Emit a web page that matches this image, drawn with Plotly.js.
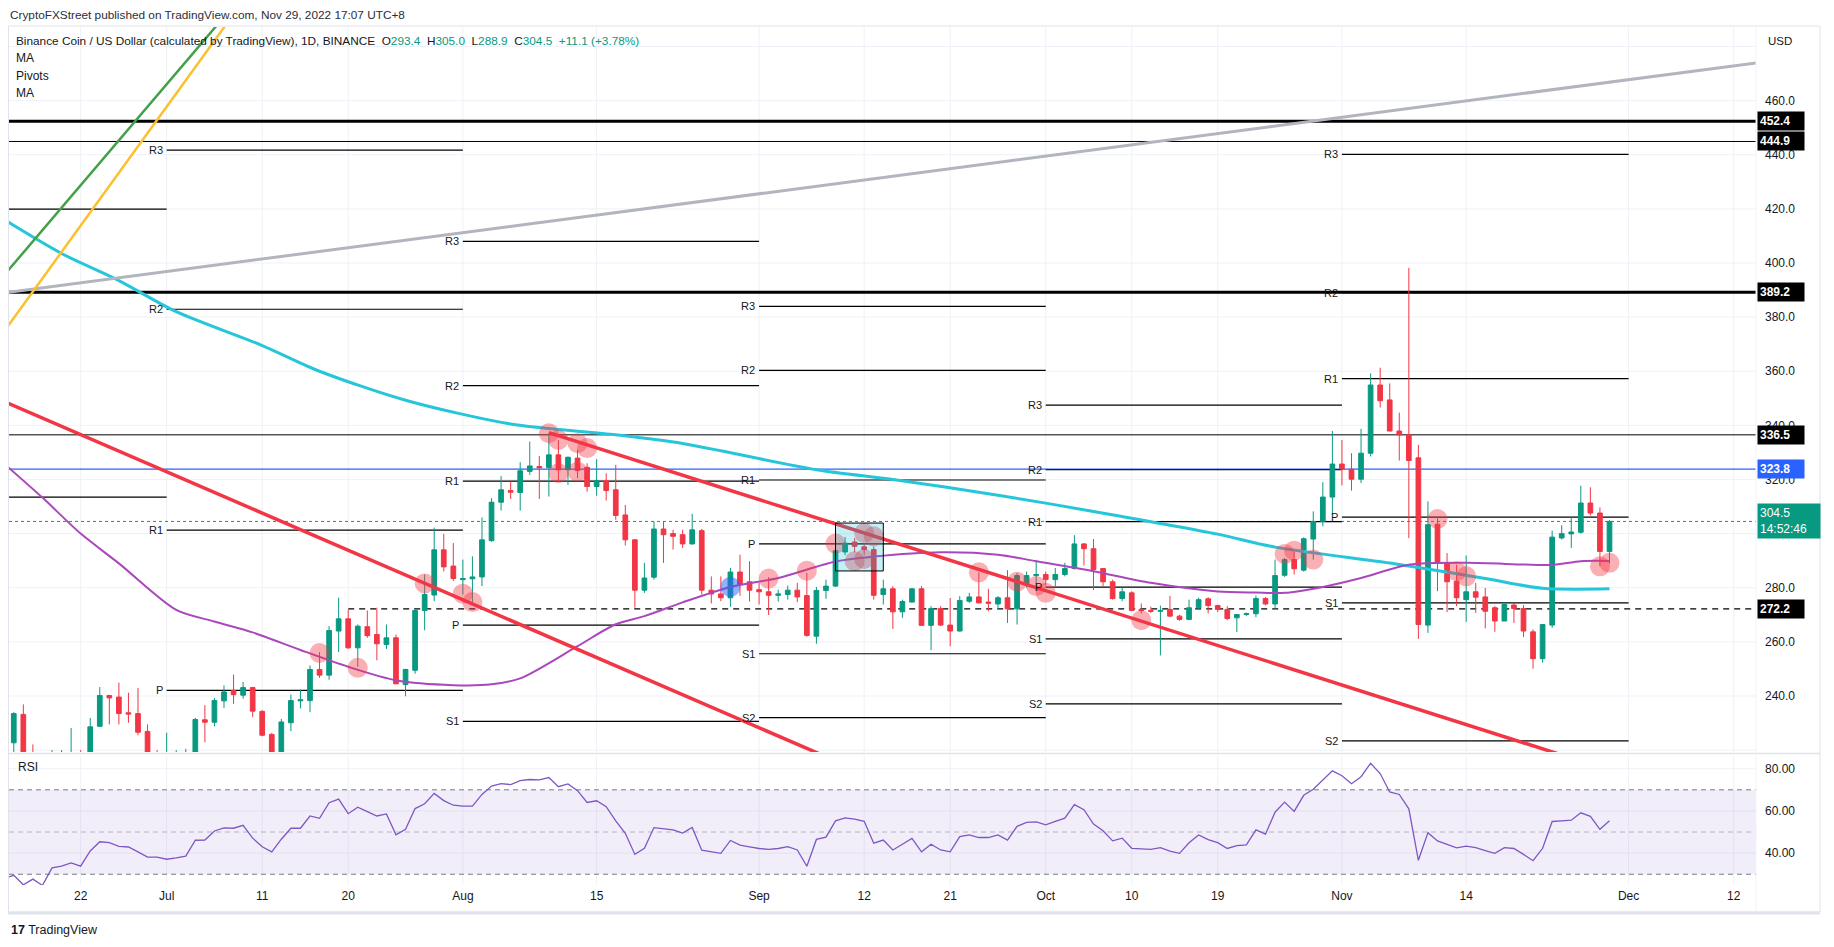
<!DOCTYPE html>
<html>
<head>
<meta charset="utf-8">
<script src="https://cdn.plot.ly/plotly-3.0.1.min.js"></script>
<style>
  html, body { margin: 0; padding: 0; background: #ffffff; }
  #chart { width: 1834px; height: 947px; }
</style>
</head>
<body>
<div id="chart"></div>
<script>
// ---- candles, 1D, from Jun 15 2022 to Nov 29 2022 ----
var firstCandle = '2022-06-15';

var openJun = [222.7, 233.2, 214, 212, 203, 218, 216, 219, 212, 228.8, 240.2, 239.6, 233.8, 233.5, 226.9, 219];
var highJun = [234.0, 236.9, 222.1, 214, 220, 220, 228.2, 220, 231.9, 243.3, 240.4, 244.9, 241.2, 243.0, 229.5, 220];
var lowJun = [215, 211, 208, 183, 199, 207, 213, 210, 211, 228.5, 229.5, 229.5, 230.1, 225.5, 216, 206];
var closeJun = [233.5, 214, 212, 203, 218, 216, 219, 212, 228.6, 240.2, 239.3, 233.5, 233.3, 226.6, 219, 214];

var openJul = [214, 217, 218, 219, 231.2, 230.3, 238.2, 242.0, 240.3, 243.1, 234.3, 225.8, 219, 230.1, 238.2, 238.3, 249.8, 247.7, 264.0, 268.5, 257.8, 265.6, 262.7, 259.0, 261.5, 244.2, 249.5, 271.6, 277.3, 294.0, 288.0];
var highJul = [226.4, 220, 220.5, 231.9, 236.6, 239.3, 243.9, 247.9, 245.2, 243.4, 234.8, 226.4, 231.5, 240.5, 242.4, 251.3, 256.2, 265.8, 276.3, 271.9, 266.4, 271.6, 272.6, 266.4, 262.7, 250.0, 272.2, 284.9, 302.2, 299.9, 296.5];
var lowJul = [212, 213, 215, 216, 222.9, 228.8, 235.6, 237.1, 239.0, 232.3, 225.1, 217, 214, 227, 235.4, 234.0, 246.7, 246.0, 256.2, 257.4, 250.8, 261.5, 253.2, 257.4, 244.3, 239.9, 248.2, 264.3, 275.0, 286.0, 282.5];
var closeJul = [217, 218, 219, 231.3, 230.3, 238.3, 241.5, 240.5, 243.1, 234.4, 225.5, 219, 230.4, 238.3, 238.6, 249.8, 247.7, 264.2, 268.5, 257.8, 265.8, 262.3, 259.3, 261.5, 244.5, 249.8, 271.6, 277.5, 294.0, 287.7, 283.4];

var openAug = [283.0, 283.3, 284.0, 297.4, 311.6, 315.9, 315.2, 323.0, 324.8, 324.4, 329.1, 323.6, 327.9, 324.5, 317.4, 319.5, 316.2, 306.9, 297.7, 279.1, 283.9, 301.7, 300.0, 299.6, 296.2, 301.1, 279.1, 277.7, 276.3, 285.8, 282.2];
var highAug = [290.4, 291.6, 306.0, 313.1, 321.3, 319.2, 326.4, 334.0, 328.7, 337.1, 334.6, 328.5, 331.0, 326.0, 327.5, 322.3, 325.4, 310.6, 298.0, 289.2, 304.5, 304.5, 301.4, 301.4, 307.3, 301.7, 284.2, 284.2, 287.3, 292.2, 289.8];
var lowAug = [277.5, 274.7, 280.6, 297.0, 308.5, 312.8, 308.5, 321.7, 312.8, 313.7, 319.2, 318.0, 320.5, 315.5, 314.0, 312.2, 305.1, 295.6, 272.6, 278.1, 283.0, 289.2, 294.1, 294.7, 295.9, 277.5, 274.2, 275.0, 273.0, 277.0, 274.9];
var closeAug = [283.4, 284.0, 297.7, 311.6, 316.2, 315.3, 323.2, 325.0, 324.3, 329.1, 323.6, 328.2, 323.3, 317.4, 319.5, 315.9, 306.7, 297.7, 279.1, 283.6, 301.7, 299.6, 299.0, 296.2, 301.4, 279.1, 277.7, 276.3, 285.8, 281.2, 279.1];

var openSep = [279.3, 278.5, 277.2, 277.5, 279.1, 277.1, 262.1, 279.0, 280.6, 293.2, 296.9, 295.1, 294.1, 277.5, 279.6, 271.1, 274.7, 279.6, 266.1, 272.3, 266.2, 264.0, 275.0, 276.6, 274.7, 274.0, 276.3, 272.2, 281.5, 284.5];
var highSep = [281.8, 283.9, 279.3, 280.8, 281.8, 285.5, 280.3, 283.0, 300.8, 298.8, 298.4, 296.5, 295.3, 283.0, 280.6, 275.6, 279.9, 280.6, 273.2, 273.2, 276.2, 276.9, 278.1, 285.7, 279.6, 276.9, 286.5, 285.5, 286.0, 290.3];
var lowSep = [273.8, 269.9, 274.9, 275.6, 274.7, 261.9, 259.3, 275.9, 280.3, 292.0, 293.0, 292.2, 275.6, 273.8, 264.8, 268.9, 274.5, 266.0, 256.9, 265.8, 258.4, 263.8, 274.4, 274.2, 271.3, 272.2, 267.0, 266.4, 280.0, 278.8];
var closeSep = [278.5, 277.2, 277.7, 279.1, 276.6, 262.4, 279.0, 280.6, 293.7, 296.5, 295.3, 294.1, 277.2, 279.6, 271.1, 274.9, 279.6, 266.1, 272.3, 266.2, 264.0, 275.3, 276.6, 274.4, 274.3, 276.3, 272.2, 284.5, 284.5, 284.9];

var openOct = [284.9, 283.0, 284.9, 287.1, 296.2, 294.4, 287.1, 282.2, 276.0, 278.1, 272.0, 271.6, 271.3, 272.0, 269.5, 268.3, 272.6, 275.9, 273.4, 272.0, 268.9, 270.1, 270.4, 276.0, 274.0, 284.6, 290.4, 286.5, 298.0, 304.5, 313.5];
var highOct = [286.0, 287.3, 289.2, 299.4, 296.5, 298.0, 287.3, 283.0, 280.0, 278.7, 274.2, 273.0, 273.4, 277.0, 270.0, 275.6, 276.3, 276.5, 273.8, 273.2, 270.3, 270.8, 277.1, 276.5, 290.4, 291.0, 293.5, 298.6, 308.2, 319.0, 337.9];
var lowOct = [281.0, 280.6, 284.2, 286.7, 288.2, 279.1, 280.6, 275.6, 275.0, 271.3, 270.5, 270.7, 255.0, 269.3, 267.8, 268.0, 272.0, 270.5, 271.0, 268.0, 263.6, 269.6, 269.1, 273.5, 272.2, 284.0, 284.9, 286.0, 290.4, 302.7, 307.0];
var closeOct = [283.0, 284.9, 287.1, 296.2, 294.4, 286.7, 282.2, 276.0, 278.5, 271.6, 271.6, 271.3, 271.6, 269.5, 268.3, 272.6, 275.6, 273.4, 272.0, 268.6, 270.1, 270.4, 276.0, 274.0, 284.5, 290.4, 287.0, 298.1, 304.5, 313.5, 325.7];

var openNov = [325.7, 323.8, 320.1, 329.7, 354.9, 349.4, 337.9, 336.5, 328.0, 266.2, 303.5, 289.2, 282.4, 275.6, 278.5, 276.6, 272.6, 267.7, 273.6, 272.3, 263.7, 253.8, 266.2, 298.4, 299.9, 300.5, 311.3, 307.6, 293.4];
var highNov = [334.6, 329.7, 338.7, 359.2, 361.3, 355.5, 344.7, 398.2, 332.8, 311.9, 306.4, 292.8, 288.5, 291.9, 281.8, 279.9, 273.2, 274.4, 274.2, 273.6, 264.6, 266.6, 301.1, 303.1, 306.4, 317.7, 317.1, 309.7, 305.0];
var lowNov = [317.8, 315.9, 318.7, 328.5, 346.6, 337.9, 327.0, 298.3, 261.1, 263.3, 278.7, 271.0, 273.2, 267.4, 270.7, 265.0, 263.7, 267.7, 267.0, 261.8, 250.1, 252.3, 265.2, 297.8, 294.7, 300.0, 306.7, 287.9, 288.9];
var closeNov = [323.9, 320.1, 329.7, 354.9, 349.1, 337.9, 336.5, 327.0, 266.4, 303.3, 289.2, 282.2, 276.3, 278.5, 276.5, 271.3, 267.7, 273.8, 272.3, 264.0, 253.8, 266.4, 298.7, 300.0, 300.6, 311.3, 307.6, 293.4, 304.5];

// ---- RSI(14), one value a day from Jun 14 ----
var rsiStart = '2022-06-14';
var rsiJun = [28.0, 29.5, 25.0, 27.7, 24.7, 33.0, 33.8, 35.4, 33.8, 41.0, 45.4, 45.0, 43.2, 42.9, 40.6, 38.1, 38.1];
var rsiJul = [37.1, 37.8, 38.6, 46.1, 46.2, 50.5, 52.0, 51.8, 53.2, 47.1, 43.0, 40.6, 46.6, 51.8, 51.8, 57.6, 56.5, 63.9, 65.6, 58.7, 61.8, 59.7, 57.6, 58.6, 48.7, 51.3, 61.1, 63.4, 68.3, 64.9, 62.7];
var rsiAug = [62.3, 62.3, 67.8, 71.8, 72.9, 72.5, 74.4, 74.9, 74.7, 75.8, 71.5, 72.8, 69.6, 64.0, 64.8, 62.0, 55.3, 49.4, 39.4, 42.3, 52.1, 51.4, 51.0, 49.5, 52.2, 41.4, 40.7, 39.9, 46.0, 43.8, 43.0];
var rsiSep = [42.2, 41.8, 42.2, 43.1, 41.5, 33.8, 46.5, 47.6, 55.3, 56.7, 56.1, 55.1, 44.7, 46.2, 41.5, 44.2, 47.0, 40.6, 44.2, 41.5, 40.6, 47.8, 48.6, 47.4, 47.4, 48.6, 46.2, 52.7, 54.6, 54.8];
var rsiOct = [53.4, 55.0, 56.6, 63.0, 60.6, 53.8, 50.6, 45.8, 47.1, 42.3, 42.2, 41.8, 42.6, 41.0, 39.9, 44.9, 48.6, 46.4, 45.0, 42.2, 43.6, 43.9, 51.0, 49.0, 59.4, 64.2, 59.8, 67.4, 70.3, 74.6, 79.0];
var rsiNov = [76.7, 72.9, 76.2, 82.6, 77.7, 69.0, 67.8, 61.0, 36.6, 49.7, 45.8, 44.1, 42.5, 43.3, 42.6, 41.2, 39.9, 42.6, 42.2, 39.4, 36.4, 42.3, 55.0, 55.3, 55.6, 59.1, 57.4, 51.3, 55.3];

// ---- moving averages, read at sample days ----
var maSlowDates = ['2022-06-14', '2022-06-20', '2022-06-26', '2022-07-02', '2022-07-11', '2022-07-17', '2022-07-26', '2022-08-06', '2022-08-17', '2022-08-24', '2022-09-07', '2022-09-15', '2022-09-26', '2022-10-06', '2022-10-19', '2022-10-25', '2022-11-07', '2022-11-16', '2022-11-22', '2022-11-29'];
var maSlow = [416, 403.5, 393.5, 382, 369.5, 360, 349.3, 340.5, 336.5, 333.3, 323.6, 320, 314.2, 308.2, 299.8, 295, 288.6, 283.4, 279.8, 279.6];

var maFastDates = ['2022-06-14', '2022-06-18', '2022-06-22', '2022-06-26', '2022-07-02', '2022-07-06', '2022-07-10', '2022-07-15', '2022-07-20', '2022-07-25', '2022-07-31', '2022-08-04', '2022-08-07', '2022-08-13', '2022-08-17', '2022-08-20', '2022-08-24', '2022-08-29', '2022-09-03', '2022-09-09', '2022-09-13', '2022-09-20', '2022-09-26', '2022-09-30', '2022-10-06', '2022-10-12', '2022-10-19', '2022-10-23', '2022-10-26', '2022-10-30', '2022-11-03', '2022-11-08', '2022-11-14', '2022-11-20', '2022-11-23', '2022-11-26', '2022-11-29'];
var maFast = [325.8, 313.3, 300, 289, 271.8, 267.5, 263.5, 257, 250.8, 245.8, 244.0, 244.3, 246.5, 258.4, 266.5, 269.5, 274.6, 280.3, 283.6, 289.7, 291.5, 293.1, 292.2, 289.8, 286.1, 281.8, 278.6, 278.2, 278.1, 280.3, 283.6, 288.5, 289.2, 288.6, 288.4, 289.8, 289.9];

// ---- monthly pivots (null = not in view) ----
var pivotMonths = ['2022-06-01', '2022-07-01', '2022-08-01', '2022-09-01', '2022-10-01', '2022-11-01', '2022-12-01'];
var pivotNames = ['R3', 'R2', 'R1', 'P', 'S1', 'S2'];
var pivotR3 = [null, 441.7, 408.0, 384.0, 347.5, 440.1];
var pivotR2 = [null, 382.9, 354.7, 360.3, 323.6, 389.0];
var pivotR1 = [419.9, 301.3, 319.4, 319.8, 304.4, 357.3];
var pivotP = [313.5, 242.1, 266.2, 296.2, 280.2, 306.1];
var pivotS1 = [null, null, 230.6, 255.6, 261.1, 274.4];
var pivotS2 = [null, null, null, 232.0, 237.1, 223.4];

// ---- drawn levels and trend lines ----
var levelPrices = [452.4, 444.9, 389.2, 336.5, 323.8];
var dashedLevel = 272.2;
var dashedLevelFrom = '2022-07-20';

var grayLineDates = ['2022-06-13', '2022-12-16'];
var grayLine = [388.5, 474.7];
var greenLineDates = ['2022-06-13', '2022-07-13'];
var greenLine = [391.4, 515.8];
var orangeLineDates = ['2022-06-13', '2022-07-13'];
var orangeLine = [369.9, 516.3];
var redLine1Dates = ['2022-06-13', '2022-09-11'];
var redLine1 = [350.3, 213.0];
var redLine2Dates = ['2022-08-10', '2022-11-25'];
var redLine2 = [337.3, 217.1];

var circleDates = ['2022-07-17', '2022-07-21', '2022-07-28', '2022-08-01', '2022-08-02', '2022-08-10', '2022-08-11', '2022-08-11', '2022-08-13', '2022-08-14', '2022-08-13',
  '2022-09-02', '2022-09-06', '2022-09-09', '2022-09-11', '2022-09-12', '2022-09-13', '2022-09-12', '2022-09-24', '2022-09-28', '2022-09-30', '2022-10-01', '2022-10-11',
  '2022-10-26', '2022-10-27', '2022-10-29', '2022-11-11', '2022-11-13', '2022-11-14', '2022-11-28', '2022-11-29'];
var circlePrices = [255.9, 250.4, 281.6, 277.8, 274.7, 337.1, 334.6, 322.3, 333.4, 331.6, 322.9,
  283.4, 286.3, 296.3, 289.8, 300.2, 299.0, 290.6, 285.7, 282.2, 280.6, 278.1, 268.0,
  292.5, 293.7, 290.4, 305.4, 286.1, 284.2, 287.9, 289.2];
var blueCircleDate = ['2022-08-29'];
var blueCirclePrice = [280.3];

var boxDates = ['2022-09-09', '2022-09-14'];
var boxPrices = [286.2, 303.9];

var xTickDates = ['2022-06-22', '2022-07-01', '2022-07-11', '2022-07-20', '2022-08-01', '2022-08-15', '2022-09-01', '2022-09-12', '2022-09-21', '2022-10-01', '2022-10-10', '2022-10-19', '2022-11-01', '2022-11-14', '2022-12-01', '2022-12-12'];
var xTickText = ['22', 'Jul', '11', '20', 'Aug', '15', 'Sep', '12', '21', 'Oct', '10', '19', 'Nov', '14', 'Dec', '12'];
var priceTicks = [240, 260, 280, 300, 320, 340, 360, 380, 400, 420, 440, 460];
var priceGrid = [220, 240, 260, 280, 300, 320, 340, 360, 380, 400, 420, 440, 460, 480];
var rsiTicks = [40, 60, 80];

// -------------------------------------------------------------
function dayList(start, n) {
  var t0 = Date.parse(start + 'T00:00:00Z');
  var out = [];
  for (var i = 0; i < n; i++) out.push(new Date(t0 + i * 86400000).toISOString().slice(0, 10));
  return out;
}

var opens = [].concat(openJun, openJul, openAug, openSep, openOct, openNov);
var highs = [].concat(highJun, highJul, highAug, highSep, highOct, highNov);
var lows = [].concat(lowJun, lowJul, lowAug, lowSep, lowOct, lowNov);
var closes = [].concat(closeJun, closeJul, closeAug, closeSep, closeOct, closeNov);
var days = dayList(firstCandle, closes.length);
var rsi = [].concat(rsiJun, rsiJul, rsiAug, rsiSep, rsiOct, rsiNov);
var rsiDays = dayList(rsiStart, rsi.length);

var W = 1834, H = 947;
function px(x) { return x / W; }
function py(y) { return 1 - y / H; }

var GREEN = '#089981', RED = '#f23645', INK = '#131722', GRID = '#eef1f7';
var FONT = 'Liberation Sans, Arial, sans-serif';
var xRange = ['2022-06-14 12:00', '2022-12-14 08:00'];

var traces = [];

traces.push({
  type: 'candlestick', x: days, open: opens, high: highs, low: lows, close: closes,
  xaxis: 'x', yaxis: 'y',
  increasing: { line: { color: GREEN, width: 1 }, fillcolor: GREEN },
  decreasing: { line: { color: RED, width: 1 }, fillcolor: RED },
  whiskerwidth: 0, hoverinfo: 'skip'
});

traces.push({ type: 'scatter', mode: 'lines', x: maSlowDates, y: maSlow, xaxis: 'x', yaxis: 'y',
  line: { color: '#26c6da', width: 3, shape: 'spline', smoothing: 0.8 }, hoverinfo: 'skip' });
traces.push({ type: 'scatter', mode: 'lines', x: maFastDates, y: maFast, xaxis: 'x', yaxis: 'y',
  line: { color: '#ab47bc', width: 2, shape: 'spline', smoothing: 0.8 }, hoverinfo: 'skip' });

var trendLines = [
  [grayLineDates, grayLine, '#b2b5be', 3],
  [greenLineDates, greenLine, '#43a047', 2.5],
  [orangeLineDates, orangeLine, '#fbc02d', 2.5],
  [redLine1Dates, redLine1, RED, 3.5],
  [redLine2Dates, redLine2, RED, 3.5]
];
trendLines.forEach(function (t) {
  traces.push({ type: 'scatter', mode: 'lines', x: t[0], y: t[1], xaxis: 'x', yaxis: 'y',
    line: { color: t[2], width: t[3] }, hoverinfo: 'skip' });
});

traces.push({ type: 'scatter', mode: 'markers', x: circleDates, y: circlePrices, xaxis: 'x', yaxis: 'y',
  marker: { size: 20, color: 'rgba(242,54,69,0.4)', line: { width: 0 } }, hoverinfo: 'skip' });
traces.push({ type: 'scatter', mode: 'markers', x: blueCircleDate, y: blueCirclePrice, xaxis: 'x', yaxis: 'y',
  marker: { size: 20, color: 'rgba(41,98,255,0.5)', line: { width: 0 } }, hoverinfo: 'skip' });

traces.push({ type: 'scatter', mode: 'lines', x: rsiDays, y: rsi, xaxis: 'x2', yaxis: 'y2',
  line: { color: '#7e57c2', width: 1.3 }, hoverinfo: 'skip' });

// ---- shapes: grid first so that levels sit on top of it ----
var shapes = [];
priceGrid.forEach(function (v) {
  shapes.push({ type: 'line', xref: 'x domain', yref: 'y', x0: 0, x1: 1, y0: v, y1: v,
    line: { color: GRID, width: 1 }, layer: 'below' });
});
[40, 60, 80].forEach(function (v) {
  shapes.push({ type: 'line', xref: 'x2 domain', yref: 'y2', x0: 0, x1: 1, y0: v, y1: v,
    line: { color: GRID, width: 1 }, layer: 'below' });
});
xTickDates.forEach(function (d) {
  shapes.push({ type: 'line', xref: 'x', yref: 'y domain', x0: d, x1: d, y0: 0, y1: 1,
    line: { color: GRID, width: 1 }, layer: 'below' });
  shapes.push({ type: 'line', xref: 'x2', yref: 'y2 domain', x0: d, x1: d, y0: 0, y1: 1,
    line: { color: GRID, width: 1 }, layer: 'below' });
});

// RSI band and guides
shapes.push({ type: 'rect', xref: 'x2 domain', yref: 'y2', x0: 0, x1: 1, y0: 30, y1: 70,
  fillcolor: 'rgba(126,87,194,0.1)', line: { width: 0 }, layer: 'below' });
[70, 30].forEach(function (v) {
  shapes.push({ type: 'line', xref: 'x2 domain', yref: 'y2', x0: 0, x1: 1, y0: v, y1: v,
    line: { color: '#787b86', width: 1, dash: '5px,4px' }, layer: 'below' });
});
shapes.push({ type: 'line', xref: 'x2 domain', yref: 'y2', x0: 0, x1: 1, y0: 50, y1: 50,
  line: { color: 'rgba(120,123,134,0.5)', width: 1, dash: '5px,4px' }, layer: 'below' });

var levelWidths = [3, 1, 3, 1, 1.3];
var levelColors = ['#000000', '#000000', '#000000', '#000000', '#2962ff'];
levelPrices.forEach(function (p, i) {
  shapes.push({ type: 'line', xref: 'x domain', yref: 'y', x0: 0, x1: 1, y0: p, y1: p,
    line: { color: levelColors[i], width: levelWidths[i] }, layer: 'below' });
});
shapes.push({ type: 'line', xref: 'x', yref: 'y', x0: dashedLevelFrom, x1: '2023-01-31', y0: dashedLevel, y1: dashedLevel,
  line: { color: '#000000', width: 1.3, dash: '6px,5px' }, layer: 'below' });
var lastClose = closes[closes.length - 1];
shapes.push({ type: 'line', xref: 'x domain', yref: 'y', x0: 0, x1: 1, y0: lastClose, y1: lastClose,
  line: { color: GREEN, width: 1, dash: 'dot' }, layer: 'below' });

var pivotLevels = [pivotR3, pivotR2, pivotR1, pivotP, pivotS1, pivotS2];
var annotations = [];
pivotLevels.forEach(function (lv, k) {
  lv.forEach(function (p, m) {
    if (p === null) return;
    shapes.push({ type: 'line', xref: 'x', yref: 'y', x0: pivotMonths[m], x1: pivotMonths[m + 1], y0: p, y1: p,
      line: { color: '#000000', width: 1.2 }, layer: 'below' });
    if (m > 0) {
      annotations.push({ xref: 'x', yref: 'y', x: pivotMonths[m], y: p, text: pivotNames[k], showarrow: false,
        xanchor: 'right', yanchor: 'middle', xshift: -2, font: { family: FONT, size: 11, color: INK } });
    }
  });
});

shapes.push({ type: 'rect', xref: 'x', yref: 'y', x0: boxDates[0], x1: boxDates[1], y0: boxPrices[0], y1: boxPrices[1],
  fillcolor: 'rgba(0,188,212,0.22)', line: { color: '#000000', width: 1 }, layer: 'above' });

// frame and pane separator
shapes.push({ type: 'rect', xref: 'paper', yref: 'paper', x0: px(8.5), x1: px(1820), y0: py(912), y1: py(26),
  line: { color: '#e0e3eb', width: 1 }, fillcolor: 'rgba(0,0,0,0)' });
shapes.push({ type: 'line', xref: 'paper', yref: 'paper', x0: px(8.5), x1: px(1820), y0: py(753.5), y1: py(753.5),
  line: { color: '#e0e3eb', width: 1.5 } });
shapes.push({ type: 'line', xref: 'paper', yref: 'paper', x0: px(1756), x1: px(1756), y0: py(912), y1: py(26),
  line: { color: '#f0f3fa', width: 1 } });
shapes.push({ type: 'line', xref: 'paper', yref: 'paper', x0: px(8), x1: px(1820), y0: py(913), y1: py(913),
  line: { color: '#e0e3eb', width: 3 } });

// ---- price scale labels ----
var levelBoxColors = ['#000000', '#000000', '#000000', '#000000', '#2962ff'];
levelPrices.concat([dashedLevel]).forEach(function (p, i) {
  annotations.push({ xref: 'paper', yref: 'y', x: px(1757), y: p, xanchor: 'left', yanchor: 'middle',
    text: '<b>' + p.toFixed(1) + '</b>', showarrow: false, bgcolor: levelBoxColors[i] || '#000000',
    width: 42, align: 'left', borderpad: 2, font: { family: FONT, size: 12, color: '#ffffff' } });
});
annotations.push({ xref: 'paper', yref: 'y', x: px(1757), y: lastClose, xanchor: 'left', yanchor: 'middle',
  text: lastClose.toFixed(1) + '<br>14:52:46', showarrow: false, bgcolor: GREEN, width: 58, align: 'left',
  borderpad: 2, font: { family: FONT, size: 12, color: '#ffffff' } });

// ---- texts ----
function g(v) { return '<span style="color:' + GREEN + '">' + v + '</span>'; }
var n = closes.length;
var chg = closes[n - 1] - closes[n - 2];
var pct = chg / closes[n - 2] * 100;
var sp = '\u00a0\u00a0';
var legendText = 'Binance Coin / US Dollar (calculated by TradingView), 1D, BINANCE' + sp +
  'O' + g(opens[n - 1].toFixed(1)) + sp + 'H' + g(highs[n - 1].toFixed(1)) + sp +
  'L' + g(lows[n - 1].toFixed(1)) + sp + 'C' + g(closes[n - 1].toFixed(1)) + sp +
  g((chg >= 0 ? '+' : '') + chg.toFixed(1) + ' (' + (pct >= 0 ? '+' : '') + pct.toFixed(2) + '%)');

function label(x, y, text, size, color, anchor) {
  annotations.push({ xref: 'paper', yref: 'paper', x: px(x), y: py(y), text: text, showarrow: false,
    xanchor: anchor || 'left', yanchor: 'middle', font: { family: FONT, size: size, color: color || INK } });
}
label(8, 15, 'CryptoFXStreet published on TradingView.com, Nov 29, 2022 17:07 UTC+8', 11.8, '#2a2e39');
label(14, 41, legendText, 11.8);
label(14, 58.5, 'MA', 12);
label(14, 75.5, 'Pivots', 12);
label(14, 92.5, 'MA', 12);
label(1766, 41, 'USD', 11.5);
label(16, 767, 'RSI', 12);
label(9, 930, '<b>17</b> TradingView', 12.5);

var layout = {
  width: W, height: H,
  margin: { l: 0, r: 0, t: 0, b: 0 },
  paper_bgcolor: '#ffffff', plot_bgcolor: '#ffffff',
  showlegend: false, hovermode: false, dragmode: false,
  font: { family: FONT, size: 12, color: INK },
  xaxis: {
    type: 'date', domain: [px(9), px(1756)], anchor: 'y', range: xRange,
    tickvals: xTickDates, showticklabels: false, showgrid: false,
    zeroline: false, showline: false, rangeslider: { visible: false }, fixedrange: true
  },
  yaxis: {
    domain: [py(752), py(27)], anchor: 'x', range: [219.3, 487.2], side: 'right',
    tickvals: priceTicks, tickformat: '.1f', ticks: '', ticklabelstandoff: 8,
    showgrid: false, zeroline: false, showline: false, fixedrange: true,
    tickfont: { family: FONT, size: 12, color: INK }
  },
  xaxis2: {
    type: 'date', domain: [px(9), px(1756)], anchor: 'y2', range: xRange,
    tickvals: xTickDates, ticktext: xTickText, ticks: '', showgrid: false,
    zeroline: false, showline: false, fixedrange: true, ticklabelstandoff: 2,
    tickfont: { family: FONT, size: 12, color: INK }
  },
  yaxis2: {
    domain: [py(885), py(755)], anchor: 'x2', range: [24.9, 86.5], side: 'right',
    tickvals: rsiTicks, tickformat: '.2f', ticks: '', ticklabelstandoff: 8,
    showgrid: false, zeroline: false, showline: false, fixedrange: true,
    tickfont: { family: FONT, size: 12, color: INK }
  },
  shapes: shapes,
  annotations: annotations
};

Plotly.newPlot('chart', traces, layout, { displayModeBar: false, staticPlot: true });
</script>
</body>
</html>
